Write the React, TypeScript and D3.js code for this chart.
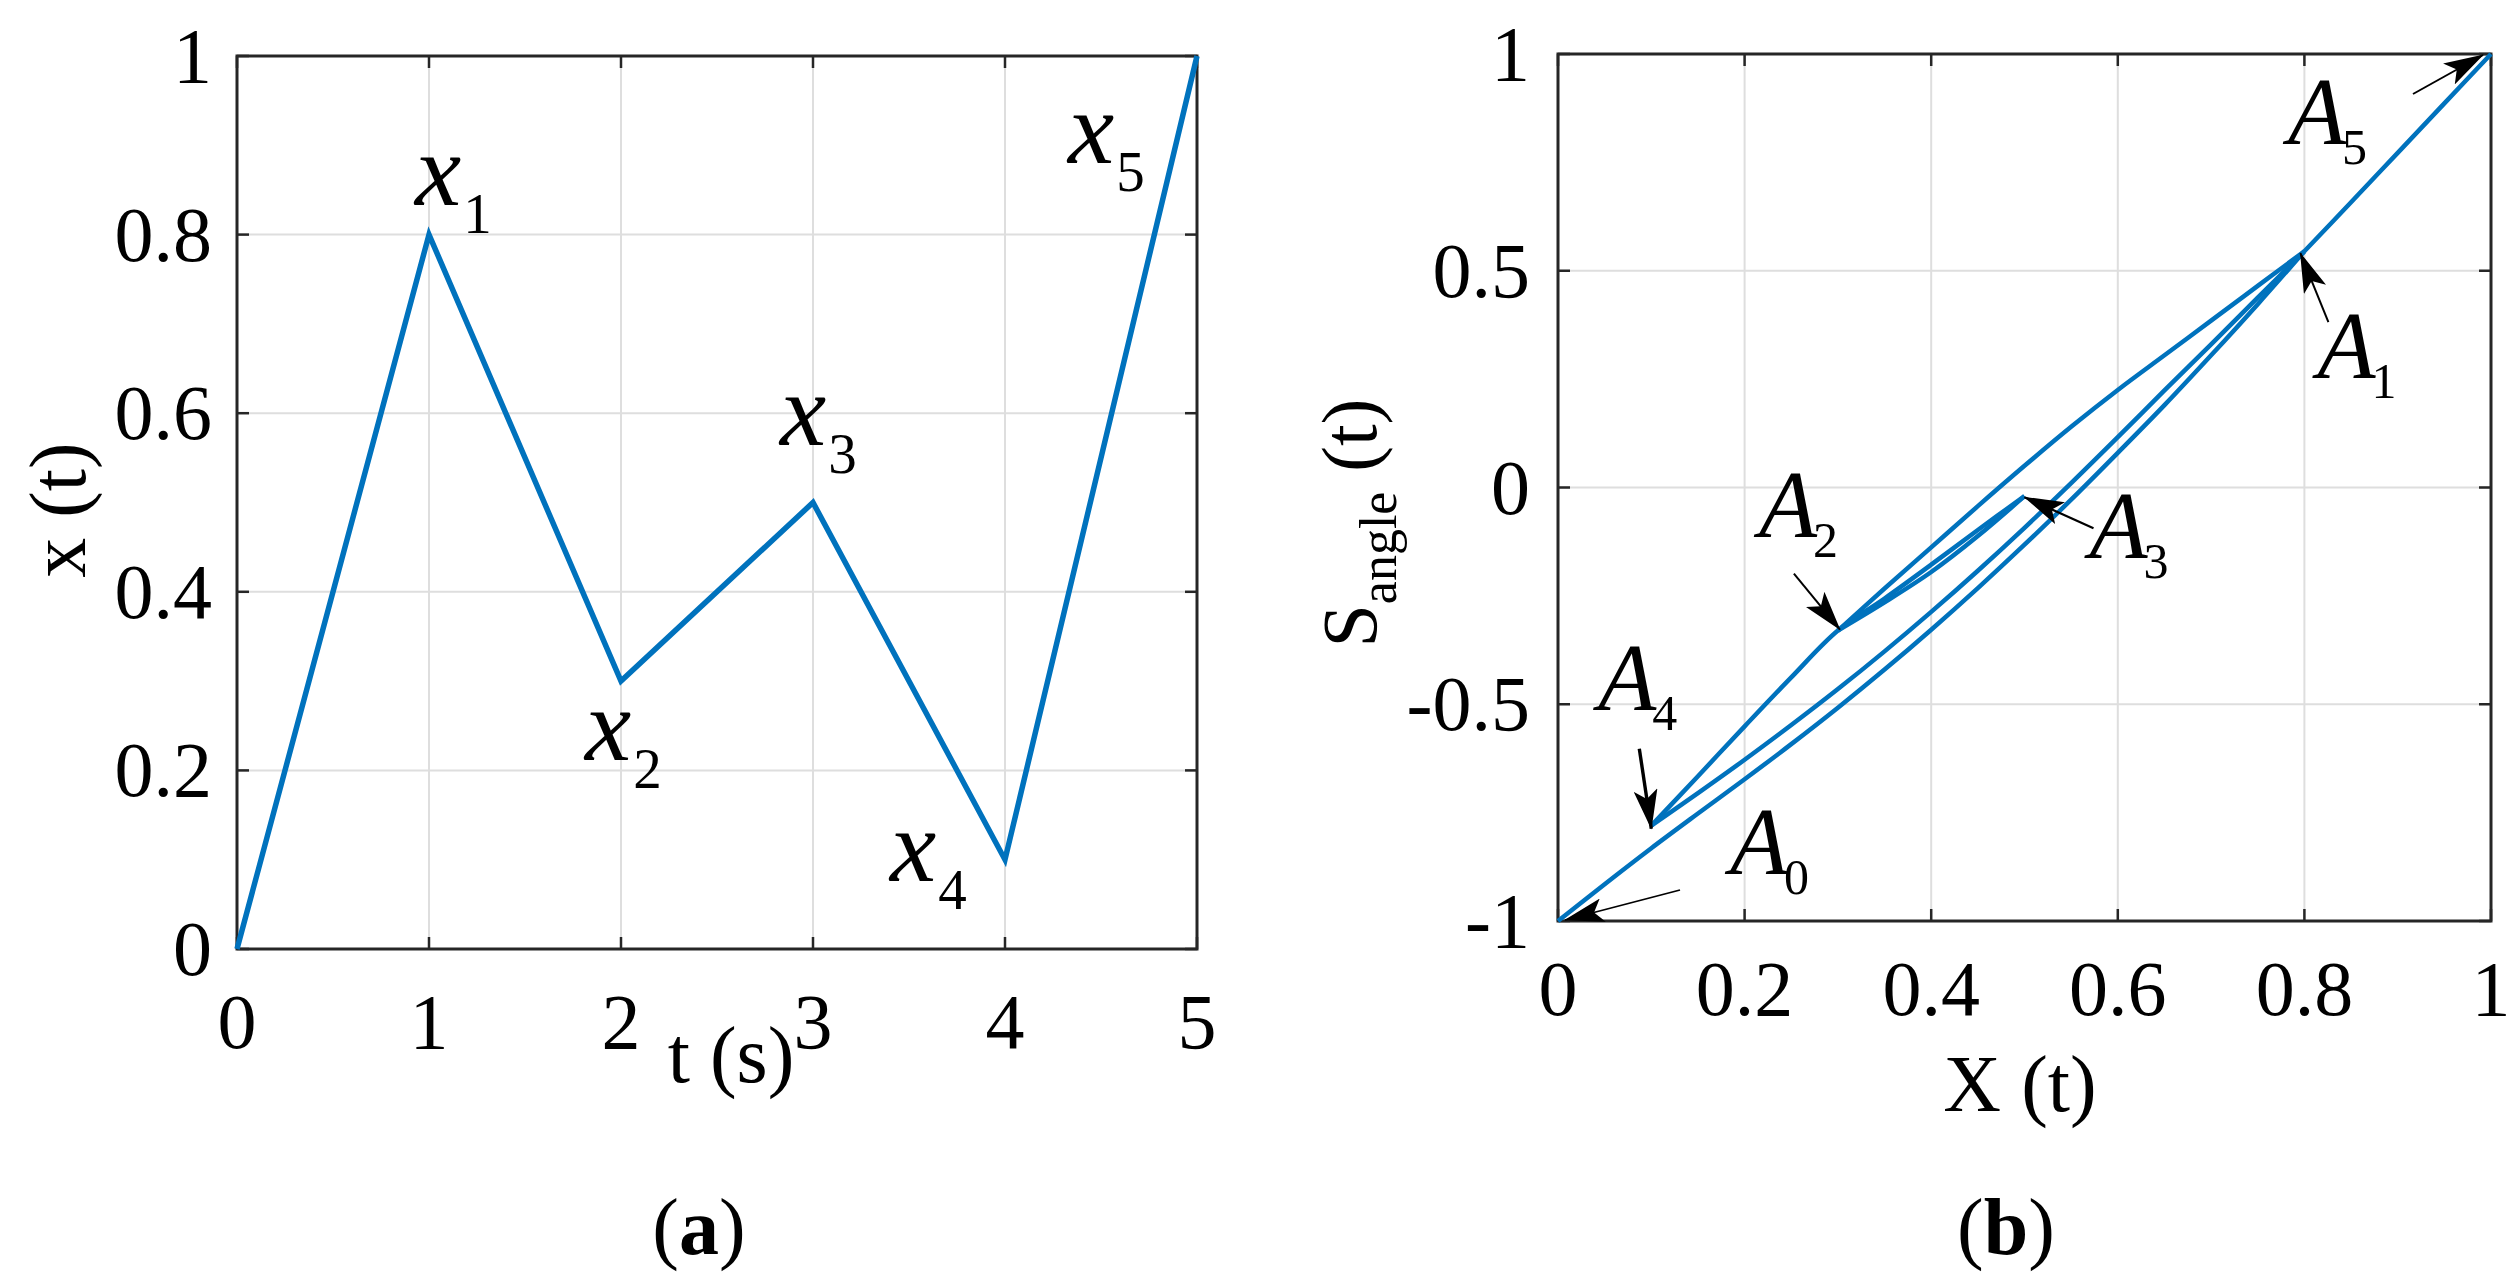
import React from 'react';
import * as d3 from 'd3';

// panel (a): x(t) piecewise input
const timeSeconds = [0, 1, 2, 3, 4, 5];
const inputValues = [0, 0.8, 0.3, 0.5, 0.1, 1];
const xTicksA = [0, 1, 2, 3, 4, 5];
const yTicksA = [0, 0.2, 0.4, 0.6, 0.8, 1];
const yTickLabelsA = ['0', '0.2', '0.4', '0.6', '0.8', '1'];

// panel (b): S_angle(t) vs X(t) hysteresis branches
const ascA0A1X = [0, 0.05, 0.1, 0.15, 0.2, 0.25, 0.3, 0.35, 0.4, 0.45, 0.5, 0.55, 0.6, 0.65, 0.7, 0.75, 0.8];
const ascA0A1Y = [-1, -0.915, -0.832, -0.752, -0.673, -0.592, -0.508, -0.42, -0.328, -0.232, -0.132, -0.028, 0.08, 0.19, 0.305, 0.423, 0.545];
const descA1A2X = [0.8, 0.75, 0.7, 0.65, 0.6, 0.55, 0.5, 0.45, 0.4, 0.35, 0.3];
const descA1A2Y = [0.545, 0.465, 0.385, 0.305, 0.225, 0.14, 0.05, -0.043, -0.138, -0.233, -0.33];
const ascA2A3X = [0.3, 0.35, 0.4, 0.45, 0.5];
const ascA2A3Y = [-0.33, -0.265, -0.195, -0.112, -0.02];
const descA3A4X = [0.5, 0.45, 0.4, 0.35, 0.3, 0.25, 0.2, 0.15, 0.1];
const descA3A4Y = [-0.02, -0.098, -0.178, -0.256, -0.33, -0.438, -0.551, -0.666, -0.78];
const ascA4A1X = [0.1, 0.15, 0.2, 0.25, 0.3, 0.35, 0.4, 0.45, 0.5, 0.55, 0.6, 0.65, 0.7, 0.75, 0.8];
const ascA4A1Y = [-0.78, -0.705, -0.628, -0.548, -0.465, -0.378, -0.287, -0.192, -0.093, 0.01, 0.116, 0.224, 0.33, 0.438, 0.545];
const ascA1A5X = [0.8, 0.85, 0.9, 0.95, 1];
const ascA1A5Y = [0.545, 0.658, 0.772, 0.886, 1];
const xTicksB = [0, 0.2, 0.4, 0.6, 0.8, 1];
const xTickLabelsB = ['0', '0.2', '0.4', '0.6', '0.8', '1'];
const yTicksB = [-1, -0.5, 0, 0.5, 1];
const yTickLabelsB = ['-1', '-0.5', '0', '0.5', '1'];

// turning points
const pointNames = ['0', '1', '2', '3', '4', '5'];
const pointX = [0, 0.8, 0.3, 0.5, 0.1, 1];
const pointY = [-1, 0.545, -0.33, -0.02, -0.78, 1];

const FONT = "'Liberation Serif', 'Times New Roman', serif";
const BLUE = '#0072BD';
const AXIS = '#262626';
const GRID = '#dedede';

// pixel offsets for annotations (label left/baseline, arrow tail, arrow tip)
const labelOffA = [[-14, -30], [-36, 79], [-33, -58], [-115, 21], [-129, 107]];
const labelOffB = [[172, -47], [13, 127], [-79, -94], [65, 62], [-53, -116], [-203, 90]];
const tailOffB = [[122, -31], [24, 71], [-44, -57], [69, 32], [-12, -77], [-78, 40]];
const tipOffB = [[7, -1], [-4, 2], [2, -1], [0, 1], [0, 3], [-8, 1]];
const arrowWidth = [1.8, 2, 2, 2.2, 3.4, 2];

const xA = d3.scaleLinear().domain([0, 5]).range([237, 1197]);
const yA = d3.scaleLinear().domain([0, 1]).range([949, 56]);
const xB = d3.scaleLinear().domain([0, 1]).range([1558, 2491]);
const yB = d3.scaleLinear().domain([-1, 1]).range([921, 54]);

function Frame({ x, y, xTicks, yTicks }) {
  const [x0, x1] = x.range();
  const [y0, y1] = y.range();
  const tl = 12;
  return (
    <g>
      {xTicks.map((t) => (
        <line key={'gx' + t} x1={x(t)} x2={x(t)} y1={y0} y2={y1} stroke={GRID} strokeWidth={2} />
      ))}
      {yTicks.map((t) => (
        <line key={'gy' + t} x1={x0} x2={x1} y1={y(t)} y2={y(t)} stroke={GRID} strokeWidth={2} />
      ))}
      {xTicks.map((t) => (
        <g key={'tx' + t}>
          <line x1={x(t)} x2={x(t)} y1={y0} y2={y0 - tl} stroke={AXIS} strokeWidth={2.5} />
          <line x1={x(t)} x2={x(t)} y1={y1} y2={y1 + tl} stroke={AXIS} strokeWidth={2.5} />
        </g>
      ))}
      {yTicks.map((t) => (
        <g key={'ty' + t}>
          <line x1={x0} x2={x0 + tl} y1={y(t)} y2={y(t)} stroke={AXIS} strokeWidth={2.5} />
          <line x1={x1} x2={x1 - tl} y1={y(t)} y2={y(t)} stroke={AXIS} strokeWidth={2.5} />
        </g>
      ))}
      <rect x={x0} y={y1} width={x1 - x0} height={y0 - y1} fill="none" stroke={AXIS} strokeWidth={3} />
    </g>
  );
}

export default function App() {
  const lineA = d3.line<number>().x((d, i) => xA(timeSeconds[i])).y((d) => yA(d));
  const branch = (xs: number[], ys: number[]) =>
    d3.line<number>().x((d) => xB(d)).y((d, i) => yB(ys[i])).curve(d3.curveCatmullRom.alpha(0.5))(xs);
  const branches = [
    [ascA0A1X, ascA0A1Y],
    [descA1A2X, descA1A2Y],
    [ascA2A3X, ascA2A3Y],
    [descA3A4X, descA3A4Y],
    [ascA4A1X, ascA4A1Y],
    [ascA1A5X, ascA1A5Y],
  ];
  const tickFont = 78;

  return (
    <svg width={2514} height={1272} style={{ position: 'absolute', left: 0, top: 0, background: '#fff' }} fontFamily={FONT}>
      <defs>
        <marker id="arrowHead" markerUnits="userSpaceOnUse" viewBox="0 0 40 24" markerWidth={40} markerHeight={24} refX={39} refY={12} orient="auto">
          <path d="M0,0 L40,12 L0,24 L9,12 z" fill="#000" />
        </marker>
      </defs>

      {/* panel (a) */}
      <Frame x={xA} y={yA} xTicks={xTicksA} yTicks={yTicksA} />
      <path d={lineA(inputValues)} fill="none" stroke={BLUE} strokeWidth={5.5} strokeLinejoin="miter" />
      {xTicksA.map((t) => (
        <text key={'xla' + t} x={xA(t)} y={1048} fontSize={tickFont} textAnchor="middle" fill="#000">{t}</text>
      ))}
      {yTicksA.map((t, i) => (
        <text key={'yla' + t} x={212} y={yA(t) + 26} fontSize={tickFont} textAnchor="end" fill="#000">{yTickLabelsA[i]}</text>
      ))}
      {inputValues.slice(1).map((v, i) => (
        <text key={'xl' + i} x={xA(timeSeconds[i + 1]) + labelOffA[i][0]} y={yA(v) + labelOffA[i][1]} fontSize={104} fontStyle="italic" fill="#000">
          x<tspan fontStyle="normal" fontSize={57} dy={28} dx={2}>{i + 1}</tspan>
        </text>
      ))}
      <text x={85} y={510} fontSize={80} textAnchor="middle" transform="rotate(-90 85 510)" fill="#000">x (t)</text>
      <text x={731} y={1082} fontSize={80} textAnchor="middle" fill="#000">t (s)</text>
      <text x={699} y={1254} fontSize={80} textAnchor="middle" fill="#000">(<tspan fontWeight="bold">a</tspan>)</text>

      {/* panel (b) */}
      <Frame x={xB} y={yB} xTicks={xTicksB} yTicks={yTicksB} />
      {branches.map(([xs, ys], i) => (
        <path key={'br' + i} d={branch(xs, ys) || ''} fill="none" stroke={BLUE} strokeWidth={4.5} />
      ))}
      {xTicksB.map((t, i) => (
        <text key={'xlb' + t} x={xB(t)} y={1015} fontSize={tickFont} textAnchor="middle" fill="#000">{xTickLabelsB[i]}</text>
      ))}
      {yTicksB.map((t, i) => (
        <text key={'ylb' + t} x={1530} y={yB(t) + 26} fontSize={tickFont} textAnchor="end" fill="#000">{yTickLabelsB[i]}</text>
      ))}
      {pointNames.map((n, i) => {
        const px = xB(pointX[i]);
        const py = yB(pointY[i]);
        return (
          <g key={'A' + n}>
            <line x1={px + tailOffB[i][0]} y1={py + tailOffB[i][1]} x2={px + tipOffB[i][0]} y2={py + tipOffB[i][1]}
              stroke="#000" strokeWidth={arrowWidth[i]} markerEnd="url(#arrowHead)" />
            <text x={px + labelOffB[i][0]} y={py + labelOffB[i][1]} fontSize={95} fontStyle="italic" fill="#000">
              A<tspan fontStyle="normal" fontSize={50} dy={20} dx={-4}>{n}</tspan>
            </text>
          </g>
        );
      })}
      <text x={1376} y={523} fontSize={78} textAnchor="middle" transform="rotate(-90 1376 523)" fill="#000">
        S<tspan fontSize={52} dy={20}>angle</tspan><tspan dy={-20}> (t)</tspan>
      </text>
      <text x={2020} y={1111} fontSize={80} textAnchor="middle" fill="#000">X (t)</text>
      <text x={2006} y={1254} fontSize={80} textAnchor="middle" fill="#000">(<tspan fontWeight="bold">b</tspan>)</text>
    </svg>
  );
}
